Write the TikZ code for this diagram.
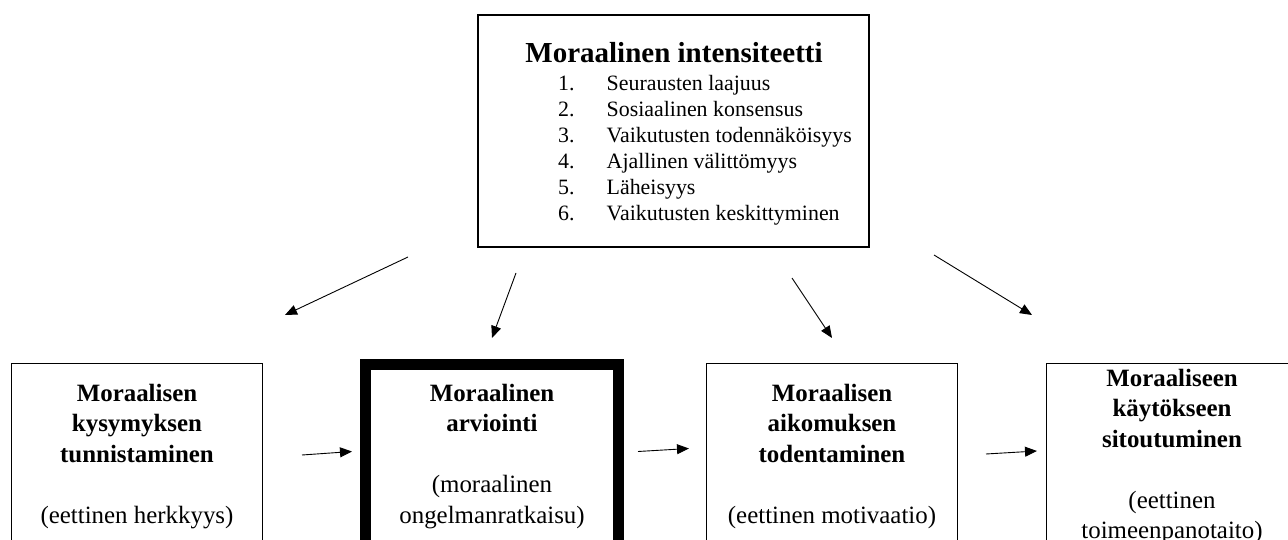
\documentclass[tikz,border=0pt]{standalone}
\usepackage{fontspec}
\setmainfont{Liberation Serif}
\usetikzlibrary{arrows.meta}

\tikzset{
  frame/.style={draw=black, line width=1.6pt},
  heavyframe/.style={draw=black, line width=11pt},
  boxtext/.style={align=center, anchor=base, inner sep=0pt,
    font=\fontsize{24.9}{30.5}\selectfont},
  link/.style={draw=black, line width=0.9pt,
    -{Triangle[length=12pt,width=10pt]}},
}

\begin{document}
\begin{tikzpicture}[x=1pt,y=-1pt]
  \useasboundingbox (0,0) rectangle (1288,540);
  \clip (0,0) rectangle (1288,540);

  % top box: moral intensity
  \draw[frame] (478,15) rectangle (869,247);
  \node[anchor=base, inner sep=0pt, font=\fontsize{29}{34}\selectfont\bfseries]
    (title) at (674,62.5) {Moraalinen intensiteetti};
  % multi-line nodes are anchored at the baseline of their last line
  \node[anchor=base west, align=left, inner sep=0pt,
        font=\fontsize{21.9}{26}\selectfont] (list) at (558,221)
    {\makebox[48.5pt][l]{1.}Seurausten laajuus\\
     \makebox[48.5pt][l]{2.}Sosiaalinen konsensus\\
     \makebox[48.5pt][l]{3.}Vaikutusten todennäköisyys\\
     \makebox[48.5pt][l]{4.}Ajallinen välittömyys\\
     \makebox[48.5pt][l]{5.}Läheisyys\\
     \makebox[48.5pt][l]{6.}Vaikutusten keskittyminen};

  % bottom row of process boxes
  \draw[frame] (11.5,363.5) rectangle (262.5,600);
  \draw[heavyframe] (365.5,364) rectangle (618.5,600);
  \draw[frame] (706.5,363.5) rectangle (957.5,600);
  \draw[frame] (1046.5,363.5) rectangle (1298,600);

  \node[boxtext] (s1) at (137,523)
    {\textbf{Moraalisen}\\\textbf{kysymyksen}\\\textbf{tunnistaminen}\\[30.5pt](eettinen herkkyys)};
  \node[boxtext] (s2) at (492,523)
    {\textbf{Moraalinen}\\\textbf{arviointi}\\[30.5pt](moraalinen\\ongelmanratkaisu)};
  \node[boxtext] (s3) at (832,523)
    {\textbf{Moraalisen}\\\textbf{aikomuksen}\\\textbf{todentaminen}\\[30.5pt](eettinen motivaatio)};
  \node[boxtext] (s4) at (1172,538.5)
    {\textbf{Moraaliseen}\\\textbf{käytökseen}\\\textbf{sitoutuminen}\\[30.5pt](eettinen\\toimeenpanotaito)};

  % arrow end points
  \coordinate (a1s) at (408,257);  \coordinate (a1e) at (285,315);
  \coordinate (a2s) at (516,273);  \coordinate (a2e) at (492,338);
  \coordinate (a3s) at (792,278);  \coordinate (a3e) at (832,338);
  \coordinate (a4s) at (934,255);  \coordinate (a4e) at (1032,315);
  \coordinate (h1s) at (302,455);  \coordinate (h1e) at (352,451.5);
  \coordinate (h2s) at (638,451.5);\coordinate (h2e) at (689,448.5);
  \coordinate (h3s) at (986,454);  \coordinate (h3e) at (1037,451);

  \draw[link] (a1s) -- (a1e);
  \draw[link] (a2s) -- (a2e);
  \draw[link] (a3s) -- (a3e);
  \draw[link] (a4s) -- (a4e);
  \draw[link] (h1s) -- (h1e);
  \draw[link] (h2s) -- (h2e);
  \draw[link] (h3s) -- (h3e);
\end{tikzpicture}
\end{document}
